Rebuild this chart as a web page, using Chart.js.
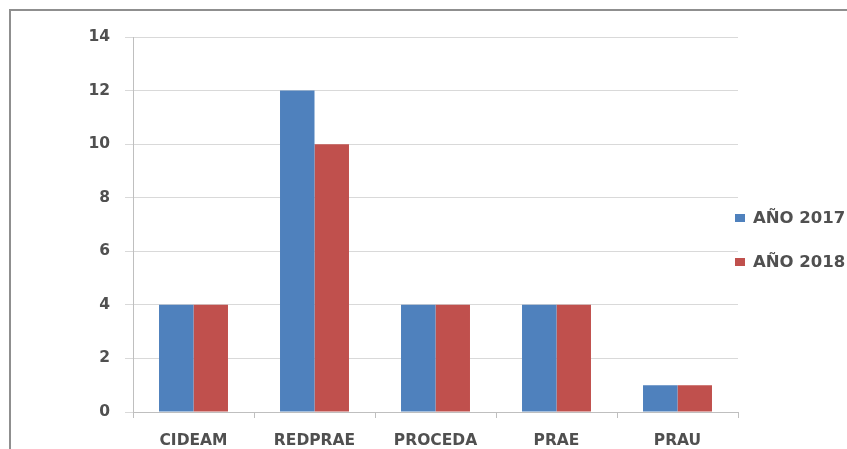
<!DOCTYPE html>
<html>
<head>
<meta charset="utf-8">
<script src="https://cdn.jsdelivr.net/npm/chart.js@4/dist/chart.umd.min.js"></script>
<style>
  html, body { margin: 0; padding: 0; background: #fff; overflow: hidden; width: 847px; height: 449px; }
  #marco { position: absolute; left: 9px; top: 9px; width: 900px; height: 500px; border: 2px solid #8f8f8f; }
  #caja { position: absolute; left: 11px; top: 11px; width: 880px; height: 438px; }
</style>
</head>
<body>
<div id="marco"></div>
<div id="caja"><canvas id="grafica"></canvas></div>
<script>
const categorias = ['CIDEAM', 'REDPRAE', 'PROCEDA', 'PRAE', 'PRAU'];
const valores2017 = [4, 12, 4, 4, 1];
const valores2018 = [4, 10, 4, 4, 1];
const etiquetasSeries = ['AÑO 2017', 'AÑO 2018'];
const coloresSeries = ['#4f81bd', '#c0504d'];

const fuente = { family: '"DejaVu Sans", Arial, sans-serif', size: 15.5, weight: 'bold' };
const gris = '#505050';

// leyenda a la derecha, dibujada a mano para poder colocarla como en Excel
const leyendaDerecha = {
    id: 'leyendaDerecha',
    afterDraw(chart) {
        const ctx = chart.ctx;
        const area = chart.chartArea;
        ctx.save();
        ctx.font = 'bold 16.5px "DejaVu Sans", Arial, sans-serif';
        ctx.textBaseline = 'middle';
        chart.data.datasets.forEach(function(ds, i) {
            const y = area.top + 181 + i * 44;
            const x = area.right - 3;
            ctx.fillStyle = ds.backgroundColor;
            ctx.fillRect(x, y - 4, 10, 8);
            ctx.fillStyle = gris;
            ctx.fillText(ds.label, x + 18, y + 1);
        });
        ctx.restore();
    }
};

new Chart(document.getElementById('grafica'), {
    type: 'bar',
    data: {
        labels: categorias,
        datasets: [
            { label: etiquetasSeries[0], data: valores2017, backgroundColor: coloresSeries[0] },
            { label: etiquetasSeries[1], data: valores2018, backgroundColor: coloresSeries[1] }
        ]
    },
    options: {
        responsive: true,
        maintainAspectRatio: false,
        animation: false,
        barPercentage: 1,
        categoryPercentage: 0.57,
        layout: { padding: { top: 26, right: 153, left: 0, bottom: 0 } },
        plugins: {
            legend: { display: false },
            tooltip: { enabled: false }
        },
        scales: {
            x: {
                afterFit: function(s) { s.height = 37; },
                grid: { drawOnChartArea: false, drawTicks: true, tickLength: 6, color: '#bfbfbf' },
                border: { color: '#bfbfbf' },
                ticks: { color: gris, font: fuente, padding: 14 }
            },
            y: {
                min: 0,
                max: 14,
                afterFit: function(s) { s.width = 122; },
                grid: { color: '#d9d9d9', tickLength: 8 },
                border: { color: '#bfbfbf' },
                ticks: { stepSize: 2, color: gris, font: fuente, padding: 15 }
            }
        }
    },
    plugins: [leyendaDerecha]
});
</script>
</body>
</html>
